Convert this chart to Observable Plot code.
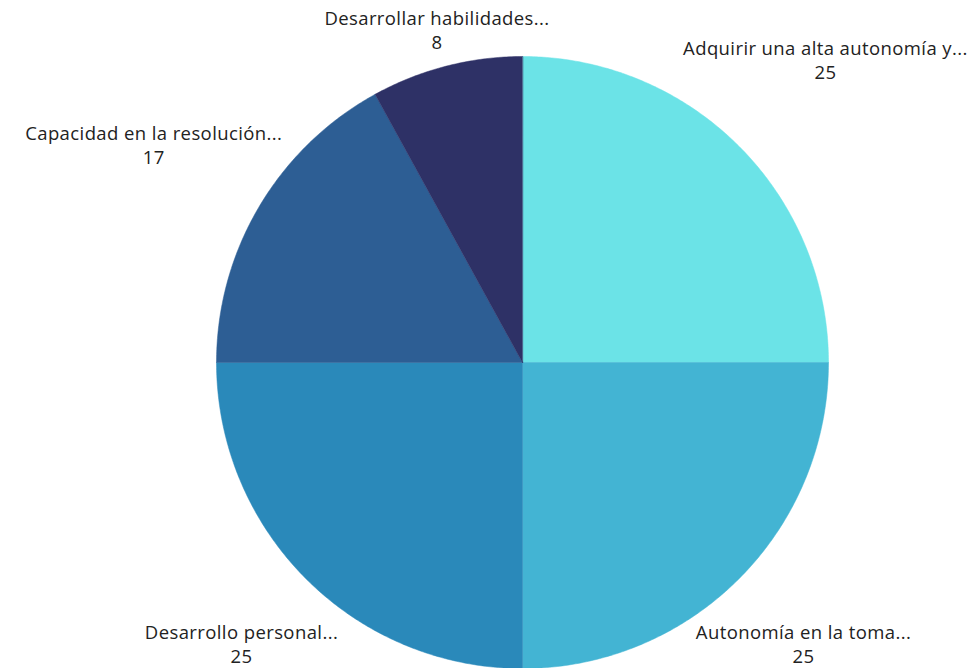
<!DOCTYPE html>
<html>
<head>
<meta charset="utf-8">
<script src="https://cdn.jsdelivr.net/npm/d3@7"></script>
<script src="https://cdn.jsdelivr.net/npm/@observablehq/plot@0.6"></script>
<style>
  html, body { margin: 0; padding: 0; background: #fff; }
  #chart svg { display: block; }
  #chart svg text { letter-spacing: 0.4px; }
</style>
</head>
<body>
<div id="chart"></div>
<script>
// Data (clockwise from 12 o'clock)
const categories = [
  "Adquirir una alta autonomía y...",
  "Autonomía en la toma...",
  "Desarrollo personal...",
  "Capacidad en la resolución...",
  "Desarrollar habilidades..."
];
const values = [25, 25, 25, 17, 8];
const colors = ["#6be3e7", "#43b4d3", "#2a89ba", "#2d5e94", "#2e3166"];

const W = 972, H = 668;
const cx = 522, cy = 362, R = 306;

const total = d3.sum(values);
const slices = [];
const labels = [];
let acc = 0;
const f = 1.4;
const yTop = (cy - 29) / R, yBot = (H - 25 - cy) / R;
categories.forEach((name, i) => {
  const a0 = acc / total * 2 * Math.PI;
  acc += values[i];
  const a1 = acc / total * 2 * Math.PI;
  const n = Math.max(2, Math.ceil((a1 - a0) / (Math.PI / 360)));
  slices.push({name, x: 0, y: 0, c: colors[i]});
  for (let k = 0; k <= n; k++) {
    const a = a0 + (a1 - a0) * k / n;
    slices.push({name, x: Math.sin(a), y: Math.cos(a), c: colors[i]});
  }
  const am = (a0 + a1) / 2;
  const dx = Math.sin(am), dy = Math.cos(am);
  const bound = dy > 0 ? yTop : yBot;
  const t = Math.min(f, bound / Math.abs(dy));
  labels.push({name, value: values[i], x: dx * t, y: dy * t});
});

const chart = Plot.plot({
  width: W,
  height: H,
  margin: 0,
  x: {domain: [-cx / R, (W - cx) / R], range: [0, W], axis: null},
  y: {domain: [-(H - cy) / R, cy / R], range: [H, 0], axis: null},
  color: {type: "identity"},
  style: {fontFamily: "'Open Sans', sans-serif", background: "#fff"},
  marks: [
    Plot.line(slices, {x: "x", y: "y", z: "name", fill: "c", stroke: "c", strokeWidth: 0.5, curve: "linear-closed"}),
    Plot.text(labels, {
      x: "x", y: "y",
      text: d => d.name + "\n" + d.value,
      fontSize: 18.5, lineHeight: 1.27, fill: "#222", textAnchor: "middle"
    })
  ]
});
document.getElementById("chart").append(chart);
</script>
</body>
</html>
